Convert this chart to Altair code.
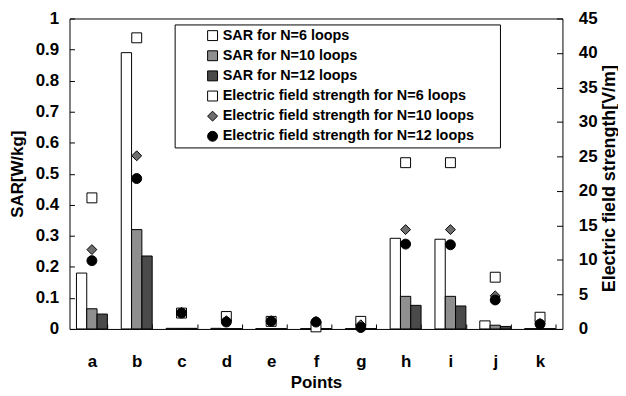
import altair as alt
import pandas as pd

points = ["a", "b", "c", "d", "e", "f", "g", "h", "i", "j", "k"]

sar_names = ["SAR for N=6 loops", "SAR for N=10 loops", "SAR for N=12 loops"]
e_names = ["Electric field strength for N=6 loops",
           "Electric field strength for N=10 loops",
           "Electric field strength for N=12 loops"]

sar_n6 = [0.18, 0.89, 0.002, 0.002, 0.001, 0.001, 0.001, 0.292, 0.289, 0.026, 0.001]
sar_n10 = [0.065, 0.32, 0.002, 0.001, 0.001, 0.001, 0.001, 0.105, 0.105, 0.012, 0.001]
sar_n12 = [0.048, 0.235, 0.002, 0.001, 0.001, 0.001, 0.001, 0.076, 0.074, 0.008, 0.001]

e_n6 = [19.0, 42.2, 2.3, 1.8, 1.1, 0.3, 1.1, 24.1, 24.1, 7.5, 1.7]
e_n10 = [11.5, 25.1, 2.4, 1.2, 1.2, 1.1, 0.6, 14.4, 14.4, 4.8, 0.8]
e_n12 = [9.9, 21.8, 2.3, 1.0, 1.1, 1.0, 0.2, 12.3, 12.2, 4.2, 0.7]

sar_ticks = [0, 0.1, 0.2, 0.3, 0.4, 0.5, 0.6, 0.7, 0.8, 0.9, 1]
e_ticks = [0, 5, 10, 15, 20, 25, 30, 35, 40, 45]

series_all = sar_names + e_names
fill_colors = ["#ffffff", "#8f8f8f", "#4a4a4a", "#ffffff", "#6e6e6e", "#000000"]
shapes = ["square", "square", "square", "square", "diamond", "circle"]

sar_rows = []
for name, vals in zip(sar_names, [sar_n6, sar_n10, sar_n12]):
    for p, v in zip(points, vals):
        sar_rows.append({"point": p, "series": name, "sar": v})
sar_df = pd.DataFrame(sar_rows)

e_rows = []
for name, vals in zip(e_names, [e_n6, e_n10, e_n12]):
    for p, v in zip(points, vals):
        e_rows.append({"point": p, "series": name, "e": v})
e_df = pd.DataFrame(e_rows)

FONT = "Liberation Sans"

x_enc = alt.X("point:N", sort=points,
              scale=alt.Scale(paddingInner=0.31, paddingOuter=0.155),
              axis=alt.Axis(title="Points", labelAngle=0, offset=-5, tickSize=5,
                            tickBand="extent", domain=False, labelPadding=25,
                            titleBaseline="alphabetic", titleY=64))

fill_scale = alt.Scale(domain=series_all, range=fill_colors)
shape_scale = alt.Scale(domain=series_all, range=shapes)

legend = alt.Legend(title=None, orient="none", legendX=106, legendY=6,
                    strokeColor="black", padding=4, fillColor="white",
                    symbolSize=100, symbolStrokeColor="black", symbolStrokeWidth=1,
                    symbolOffset=27, labelOffset=3, rowPadding=4.3,
                    labelFontSize=14.5, labelFont=FONT, labelFontWeight="bold",
                    labelColor="black", labelLimit=400,
                    labelExpr="datum.label + '\u2800\u2800'")

bars = alt.Chart(sar_df).mark_bar(stroke="black", strokeWidth=1).encode(
    x=x_enc,
    xOffset=alt.XOffset("series:N", sort=sar_names, scale=alt.Scale(domain=sar_names, paddingInner=0, paddingOuter=0)),
    y=alt.Y("sar:Q", scale=alt.Scale(domain=[0, 1], nice=False),
            axis=alt.Axis(title="SAR[W/kg]", values=sar_ticks, format="~g",
                          offset=-5, tickSize=5, domain=False, labelPadding=11,
                          grid=False, titleAngle=270, titleBaseline="middle",
                          titleAlign="center", titleX=-57, titleFontSize=17)),
    fill=alt.Fill("series:N", scale=fill_scale, legend=legend),
)

pts = alt.Chart(e_df).mark_point(filled=True, stroke="black", strokeWidth=1,
                                  size=100, opacity=1).encode(
    x=x_enc,
    y=alt.Y("e:Q", scale=alt.Scale(domain=[0, 45], nice=False),
            axis=alt.Axis(title="Electric field strength[V/m]", orient="right",
                          values=e_ticks, offset=-6, tickSize=6, domain=False,
                          labelPadding=16, grid=False, titleAngle=270,
                          titleBaseline="middle", titleAlign="center",
                          titleX=53, titleY=161, titleFontSize=18)),
    fill=alt.Fill("series:N", scale=fill_scale, legend=legend),
    shape=alt.Shape("series:N", scale=shape_scale, legend=legend),
)

chart = alt.layer(bars, pts).resolve_scale(y="independent").properties(
    width=497, height=313,
    autosize=alt.AutoSizeParams(type="none"),
    padding={"left": 62, "top": 9, "right": 56, "bottom": 64},
    background="white",
).configure_view(stroke="black", strokeWidth=1).configure_axis(
    labelFont=FONT, labelFontWeight="bold", labelFontSize=17, labelColor="black",
    titleFont=FONT, titleFontWeight="bold", titleFontSize=17, titleColor="black",
    tickColor="black", grid=False,
)

chart.save("out.html", embed_options={"renderer": "svg", "actions": False})
